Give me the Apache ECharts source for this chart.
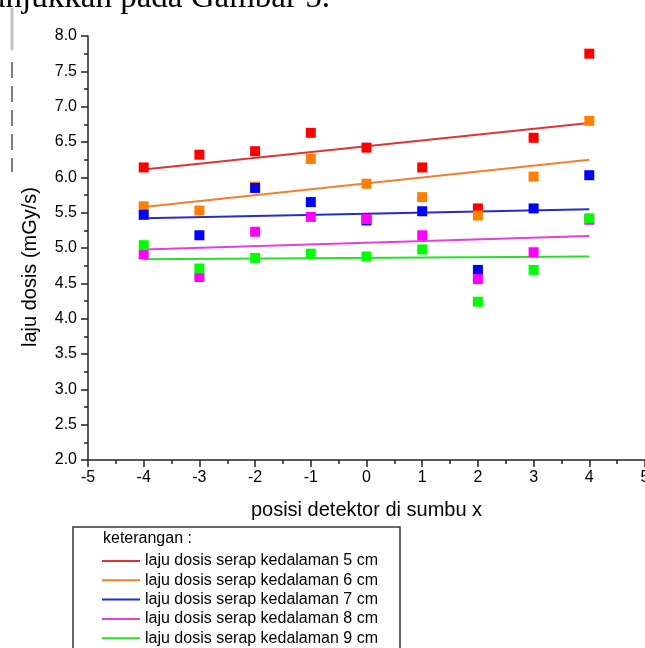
<!DOCTYPE html>
<html>
<head>
<meta charset="utf-8">
<script src="https://cdn.jsdelivr.net/npm/echarts@6/dist/echarts.min.js"></script>
<style>
html,body{margin:0;padding:0;background:#fff;}
#chart{width:645px;height:648px;}
</style>
</head>
<body>
<div id="chart"></div>
<script>
// ---- data ----
var positions = [-4, -3, -2, -1, 0, 1, 2, 3, 4];
var depth5 = [6.14, 6.32, 6.37, 6.63, 6.42, 6.14, 5.56, 6.56, 7.75];
var depth6 = [5.59, 5.53, 5.87, 6.26, 5.91, 5.72, 5.46, 6.01, 6.80];
var depth7 = [5.47, 5.18, 5.85, 5.65, 5.39, 5.52, 4.69, 5.56, 6.03];
var depth8 = [4.91, 4.59, 5.23, 5.44, 5.41, 5.18, 4.56, 4.94, 5.40];
var depth9 = [5.04, 4.71, 4.86, 4.92, 4.88, 4.98, 4.24, 4.69, 5.42];
// fitted trend lines: value at x=-4 and at x=4
var fitX = [-4, 4];
var fit5 = [6.11, 6.77];
var fit6 = [5.58, 6.25];
var fit7 = [5.42, 5.55];
var fit8 = [4.98, 5.17];
var fit9 = [4.84, 4.88];
var seriesNames = [
  'laju dosis serap kedalaman 5 cm',
  'laju dosis serap kedalaman 6 cm',
  'laju dosis serap kedalaman 7 cm',
  'laju dosis serap kedalaman 8 cm',
  'laju dosis serap kedalaman 9 cm'
];
var legendTitle = 'keterangan :';
var xName = 'posisi detektor di sumbu x';
var yName = 'laju dosis (mGy/s)';
var pageText = 'ditunjukkan pada Gambar 5.';

// ---- styles ----
var pointColors = ['#ff0000', '#ff8000', '#0000ff', '#ff00ff', '#00ff00'];
var lineColors = ['#e03434', '#f0802c', '#2a2ad0', '#e040e0', '#28e028'];
var legendLineColors = ['#e02020', '#f08030', '#1a1aa8', '#e020e0', '#20d020'];

var allPoints = [depth5, depth6, depth7, depth8, depth9];
var allFits = [fit5, fit6, fit7, fit8, fit9];

function pairs(xs, ys) { return xs.map(function (x, i) { return [x, ys[i]]; }); }

var series = [];
for (var i = 0; i < 5; i++) {
  series.push({
    name: seriesNames[i],
    type: 'line',
    data: pairs(fitX, allFits[i]),
    symbol: 'none',
    silent: true,
    animation: false,
    z: 2,
    color: legendLineColors[i],
    lineStyle: { color: lineColors[i], width: 2 }
  });
}
for (var j = 0; j < 5; j++) {
  series.push({
    name: 'titik ' + (j + 5),
    type: 'scatter',
    data: pairs(positions, allPoints[j]),
    symbol: 'rect',
    symbolSize: 10,
    animation: false,
    z: 3,
    itemStyle: { color: pointColors[j], opacity: 1 }
  });
}

var font = 'Arial, "Liberation Sans", sans-serif';
var chart = echarts.init(document.getElementById('chart'), null, { renderer: 'canvas' });
chart.setOption({
  backgroundColor: '#ffffff',
  animation: false,
  grid: { left: 88, top: 36, width: 557, height: 424, containLabel: false, outerBoundsMode: 'none' },
  xAxis: {
    type: 'value', min: -5, max: 5, interval: 1,
    name: xName, nameLocation: 'middle', nameGap: 40,
    nameTextStyle: { color: '#000', fontSize: 20, fontFamily: font },
    axisLine: { show: true, onZero: false, lineStyle: { color: '#222', width: 1.5 } },
    axisTick: { show: true, inside: false, length: 7, lineStyle: { color: '#222', width: 1.5 } },
    minorTick: { show: true, splitNumber: 2, length: 4, lineStyle: { color: '#222', width: 1.5 } },
    splitLine: { show: false },
    axisLabel: { color: '#000', fontSize: 16, fontFamily: font, margin: 10 }
  },
  yAxis: {
    type: 'value', min: 2, max: 8, interval: 0.5,
    name: yName, nameLocation: 'middle', nameGap: 48,
    nameTextStyle: { color: '#000', fontSize: 20, fontFamily: font, padding: [0, 38, 0, 0] },
    axisLine: { show: true, onZero: false, lineStyle: { color: '#222', width: 1.5 } },
    axisTick: { show: true, inside: false, length: 7, lineStyle: { color: '#222', width: 1.5 } },
    minorTick: { show: true, splitNumber: 2, length: 4, lineStyle: { color: '#222', width: 1.5 } },
    splitLine: { show: false },
    axisLabel: {
      color: '#000', fontSize: 16, fontFamily: font, margin: 11,
      formatter: function (v) { return v.toFixed(1); }
    }
  },
  legend: {
    data: seriesNames,
    orient: 'vertical',
    left: 101, top: 553,
    padding: 0,
    itemWidth: 38, itemHeight: 14, itemGap: 3.3,
    itemStyle: { opacity: 0 },
    textStyle: { color: '#000', fontSize: 16, fontFamily: font, lineHeight: 16 },
    selectedMode: false,
    z: 20
  },
  graphic: [
    { type: 'rect', z: 10, shape: { x: 73, y: 527, width: 327, height: 140 },
      style: { fill: '#fff', stroke: '#333', lineWidth: 1.5 } },
    { type: 'text', z: 11, left: 103, top: 531,
      style: { text: legendTitle, fill: '#000', font: '16px ' + font } },
    { type: 'text', z: 11, x: 330, y: 15,
      style: { text: pageText, fill: '#000', font: '33px "Liberation Serif", "Times New Roman", serif',
               textAlign: 'right', textVerticalAlign: 'bottom' } },
    { type: 'line', z: 11, shape: { x1: 12, y1: 8, x2: 12, y2: 50 },
      style: { stroke: '#c0c0c0', lineWidth: 3 } },
    { type: 'line', z: 11, shape: { x1: 12, y1: 62, x2: 12, y2: 172 },
      style: { stroke: '#555', lineWidth: 1.5, lineDash: [16, 8] } }
  ],
  series: series
});
</script>
</body>
</html>
